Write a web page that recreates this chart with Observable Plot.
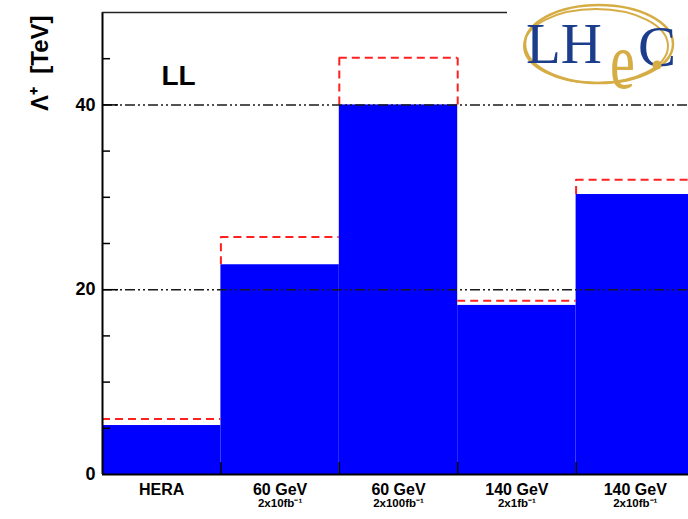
<!DOCTYPE html>
<html>
<head>
<meta charset="utf-8">
<script src="https://cdn.jsdelivr.net/npm/d3@7"></script>
<script src="https://cdn.jsdelivr.net/npm/@observablehq/plot@0.6"></script>
<style>
  html, body { margin: 0; padding: 0; background: white; overflow: hidden; width: 688px; height: 519px; }
  #chart { width: 700px; }
  #chart svg { display: block; max-width: none !important; width: 700px !important; height: 519px !important; }
</style>
</head>
<body>
<div id="chart"></div>
<script>
// ---- data ----
const categories = ["HERA", "60 GeV", "60 GeV", "140 GeV", "140 GeV"];
const luminosities = ["", "2x10fb\u207B\u00B9", "2x100fb\u207B\u00B9", "2x1fb\u207B\u00B9", "2x10fb\u207B\u00B9"];
const lambdaBlue = [5.3, 22.7, 40.0, 18.3, 30.3];
const lambdaRed = [6.0, 25.7, 45.1, 18.8, 31.9];
const yTicks = [0, 20, 40];
const minorTicks = [5, 10, 15, 25, 30, 35, 45];
const majorTicks = [20, 40];
const refLines = [20, 40];
const binEdges = [1, 2, 3, 4];
const yLabel = "\u039B\u207A  [TeV]";
const panelLabel = "LL";

// tables built from arrays
const bars = lambdaBlue.map((v, i) => ({x1: i, x2: i + 1, v}));
const redTops = lambdaRed.map((v, i) => ({x1: i, x2: i + 1, v}));
// visible parts of the red histogram's vertical edges (above the blue bars)
const redEdges = binEdges.map(i => {
  const lo = Math.min(lambdaRed[i - 1], lambdaRed[i]);
  const hi = Math.max(lambdaRed[i - 1], lambdaRed[i]);
  const cover = Math.max(lambdaBlue[i - 1], lambdaBlue[i]);
  return {x: i, y1: Math.max(lo, cover), y2: hi};
}).filter(d => d.y2 > d.y1);
const labels = categories.map((c, i) => ({c, l: luminosities[i], x: i + 0.5}));

const W = 700, H = 519, ML = 102, MR = 6, MT = 12, MB = 45;
const plotW = W - ML - MR, plotH = H - MT - MB;
const font = "'Liberation Sans', Arial, Helvetica, sans-serif";
const red = "#ff2020";

const chart = Plot.plot({
  width: W, height: H,
  marginLeft: ML, marginRight: MR, marginTop: MT, marginBottom: MB,
  x: {domain: [0, 5], axis: null},
  y: {domain: [0, 50], axis: null},
  style: {fontFamily: font, background: "white", color: "black", overflow: "visible"},
  marks: [
    Plot.rect(bars, {x1: "x1", x2: "x2", y1: 0, y2: "v", fill: "#0000ff"}),
    Plot.ruleY(redTops, {y: "v", x1: "x1", x2: "x2", stroke: red, strokeWidth: 2, strokeDasharray: "8,5"}),
    Plot.ruleX(redEdges, {x: "x", y1: "y1", y2: "y2", stroke: red, strokeWidth: 2, strokeDasharray: "8,5"}),
    Plot.ruleY(refLines, {stroke: "#1a1a1a", strokeWidth: 1.5, strokeDasharray: "10,3,2,3,2,3"}),
    Plot.ruleY(minorTicks, {stroke: "black", strokeWidth: 1.5, insetRight: plotW - 8}),
    Plot.ruleY(majorTicks, {stroke: "black", strokeWidth: 1.5, insetRight: plotW - 16}),
    Plot.ruleX(binEdges, {stroke: "black", strokeWidth: 1.5, insetTop: plotH - 12}),
    Plot.ruleX([0], {stroke: "black", strokeWidth: 2}),
    Plot.ruleY([0], {stroke: "black", strokeWidth: 2}),
    Plot.ruleY([50], {stroke: "#222", strokeWidth: 1.5}),
    Plot.axisY({ticks: yTicks, tickSize: 0, tickPadding: 7, fontSize: 18, fontWeight: "bold", label: null}),
    Plot.text(labels, {x: "x", text: "c", frameAnchor: "bottom", lineAnchor: "top", dy: 9, fontSize: 16, fontWeight: "bold", fill: "black"}),
    Plot.text(labels, {x: "x", text: "l", frameAnchor: "bottom", lineAnchor: "top", dy: 24, fontSize: 11.5, fontWeight: "bold", fill: "black"}),
    Plot.text([yLabel], {frameAnchor: "top-left", dx: -62, dy: 3, rotate: -90, textAnchor: "end", lineAnchor: "middle", fontSize: 24, fontWeight: "bold", fill: "black"}),
    Plot.text([panelLabel], {frameAnchor: "top-left", dx: 59, dy: 53, textAnchor: "start", lineAnchor: "top", fontSize: 28, fontWeight: "bold", fill: "black"})
  ]
});

document.getElementById("chart").appendChild(chart);

// ---- LHeC logo (decoration) ----
const svg = d3.select(chart);
const g = svg.append("g").attr("text-anchor", "start");
const gold = "#d6ad45", navy = "#1b3d8c";
const serif = "'Liberation Serif', 'DejaVu Serif', serif";
g.append("rect").attr("x", 507).attr("y", 0).attr("width", 200).attr("height", 90).attr("fill", "white");
g.append("ellipse").attr("cx", 599).attr("cy", 44).attr("rx", 74).attr("ry", 39)
  .attr("fill", "none").attr("stroke", gold).attr("stroke-width", 2.5);
g.append("ellipse").attr("cx", 596).attr("cy", 46).attr("rx", 72).attr("ry", 37)
  .attr("fill", "none").attr("stroke", gold).attr("stroke-width", 2);
g.append("text").attr("x", 526).attr("y", 63).text("LH").attr("text-anchor", "start")
  .attr("font-family", serif).attr("font-size", 57).attr("fill", navy);
g.append("text").attr("transform", "translate(610,88) scale(1,1.45)").text("e").attr("text-anchor", "start")
  .attr("font-family", serif).attr("font-size", 56).attr("fill", gold);
g.append("text").attr("x", 638).attr("y", 66).text("C").attr("text-anchor", "start")
  .attr("font-family", serif).attr("font-size", 57).attr("fill", navy);
g.append("circle").attr("cx", 657).attr("cy", 65).attr("r", 4.5).attr("fill", gold);
</script>
</body>
</html>
